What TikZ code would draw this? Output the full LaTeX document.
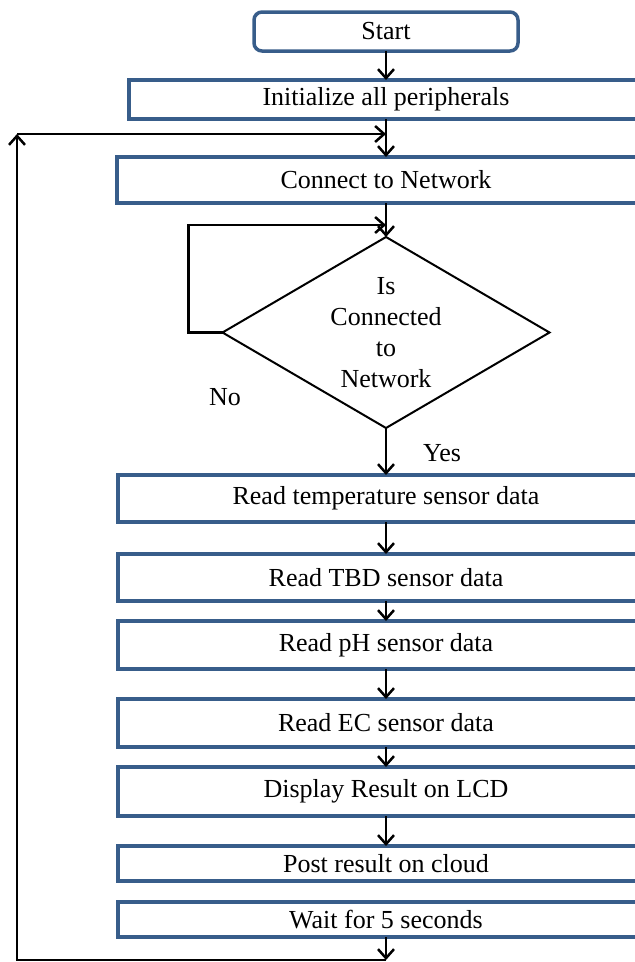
\documentclass[tikz,border=0pt]{standalone}
\usepackage{fontspec}
\setmainfont{Liberation Serif}
\usetikzlibrary{positioning,shapes.geometric,arrows.meta}
\definecolor{boxblue}{HTML}{385D8A}

\begin{document}
\begin{tikzpicture}[
    x=1pt, y=1pt,
    font=\fontsize{26}{31}\selectfont,
    stepbox/.style={rectangle, draw=boxblue, line width=3.5pt, fill=white, minimum width=536pt, inner sep=0pt, outer sep=0pt},
    startbox/.style={stepbox, rounded corners=8pt, minimum width=264pt, minimum height=39pt},
    decision/.style={diamond, aspect=1.71, draw=black, line width=2pt, minimum width=327pt, minimum height=191pt, inner sep=0pt, outer sep=0pt, align=center},
    flow/.style={line width=2.5pt, -{Straight Barb[length=9pt,width=16pt,line width=2.5pt]}},
]
    \useasboundingbox (0,0) rectangle (635,-962);

    %node
    \node[startbox] (start) at (386,-31.5) {Start};
    \node[stepbox, minimum width=514pt, minimum height=39pt] (init) [below=29pt of start] {Initialize all peripherals};
    \node[stepbox, minimum width=538pt, minimum height=46pt] (connect) [below=38pt of init] {Connect to Network};
    \node[decision] (check) [below=34pt of connect] {Is\\Connected\\to\\Network};
    \node[stepbox, minimum height=47pt] (temp) [below=47pt of check] {Read temperature sensor data};
    \node[stepbox, minimum height=47pt] (tbd) [below=32pt of temp] {Read TBD sensor data};
    \node[stepbox, minimum height=48pt] (ph) [below=20pt of tbd] {Read pH sensor data};
    \node[stepbox, minimum height=48pt] (ec) [below=30pt of ph] {Read EC sensor data};
    \node[stepbox, minimum height=49pt] (lcd) [below=20pt of ec] {Display Result on LCD};
    \node[stepbox, minimum height=35pt] (cloud) [below=30pt of lcd] {Post result on cloud};
    \node[stepbox, minimum height=35pt] (wait) [below=21pt of cloud] {Wait for 5 seconds};
    \node (no) at (225,-397) {No};
    \node (yes) at ([shift={(56,-25)}]check.south) {Yes};

    \coordinate[below=23pt of wait] (back);
    \coordinate (corner) at (17,-960);
    \coordinate (rejoin) at (17,-134);

    %lines
    \draw[flow] (start) -- (init);
    \draw[flow] (init) -- (connect);
    \draw[flow] (connect) -- (check);
    \draw[flow] (check.west) -- ++(-34,0) |- ([yshift=12pt]check.north);
    \draw[flow] (check) -- (temp);
    \draw[flow] (temp) -- (tbd);
    \draw[flow] (tbd) -- (ph);
    \draw[flow] (ph) -- (ec);
    \draw[flow] (ec) -- (lcd);
    \draw[flow] (lcd) -- (cloud);
    \draw[flow] (wait) -- (back);
    \draw[flow] (back) -- (corner) -- (rejoin);
    \draw[flow] (rejoin) -- (rejoin -| connect.north);
\end{tikzpicture}
\end{document}
